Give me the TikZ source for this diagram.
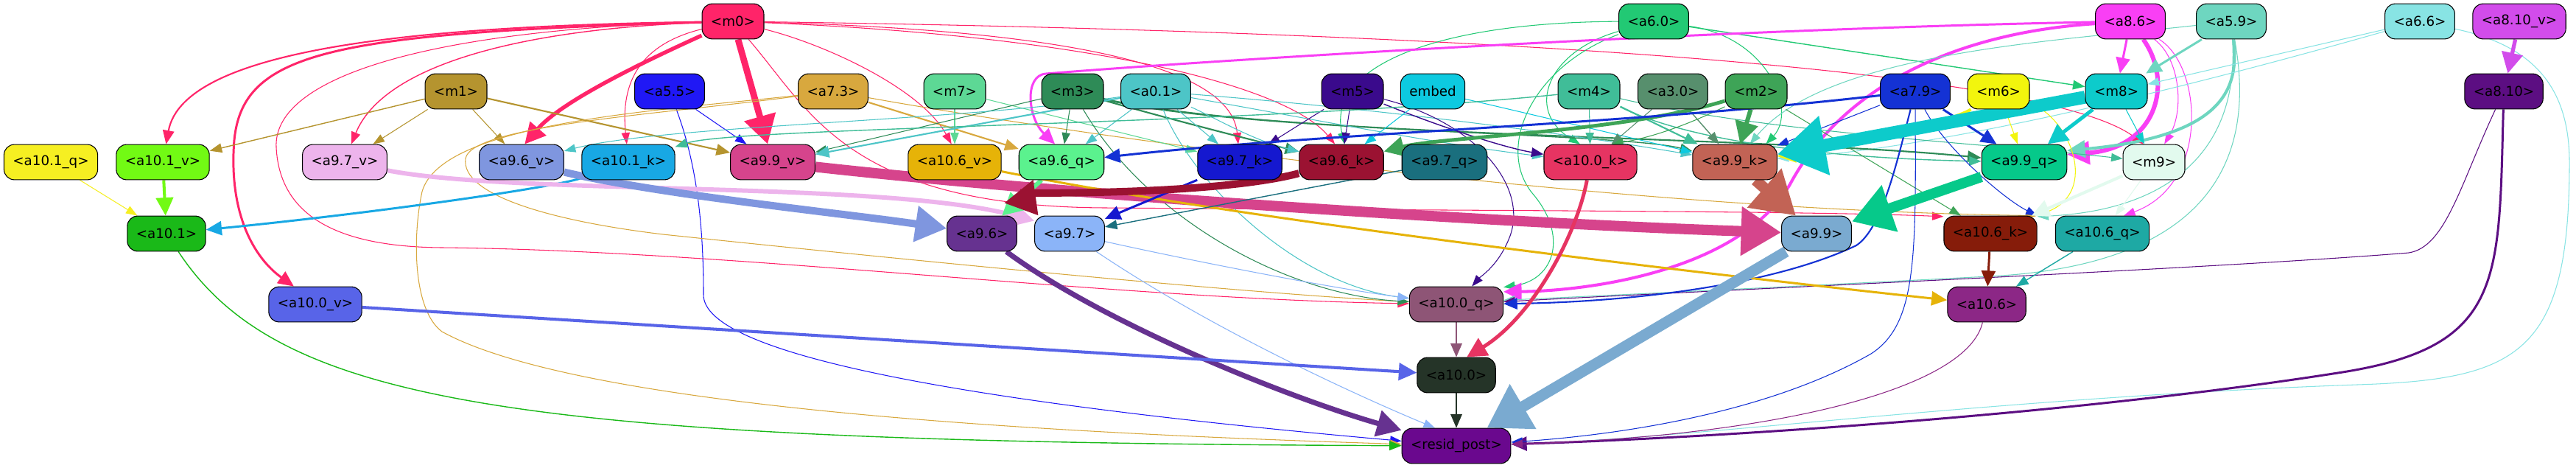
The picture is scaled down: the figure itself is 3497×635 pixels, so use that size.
\documentclass[tikz,border=0pt]{standalone}
\usepackage{fontspec}
\setmainfont{DejaVu Sans}
\usepackage{tikz}
\usetikzlibrary{arrows.meta,backgrounds}

\definecolor{cm0}{HTML}{FF2469}
\definecolor{ca60}{HTML}{22C974}
\definecolor{ca86}{HTML}{F93FF5}
\definecolor{ca59}{HTML}{6ED6C0}
\definecolor{ca66}{HTML}{88E4E4}
\definecolor{ca810v}{HTML}{D24CEB}
\definecolor{cm1}{HTML}{B5942F}
\definecolor{ca55}{HTML}{2018F5}
\definecolor{ca73}{HTML}{D8A83E}
\definecolor{cm7}{HTML}{5DD895}
\definecolor{cm3}{HTML}{2E8B57}
\definecolor{ca01}{HTML}{4DC5C7}
\definecolor{cm5}{HTML}{3A0A8C}
\definecolor{cembed}{HTML}{0DCAE0}
\definecolor{cm4}{HTML}{40BD98}
\definecolor{ca30}{HTML}{578F6D}
\definecolor{cm2}{HTML}{3EA457}
\definecolor{ca79}{HTML}{1432D4}
\definecolor{cm6}{HTML}{F2F50D}
\definecolor{cm8}{HTML}{0DCBCB}
\definecolor{ca810}{HTML}{5C0E82}
\definecolor{ca101q}{HTML}{F6EF22}
\definecolor{ca101v}{HTML}{72FA14}
\definecolor{ca97v}{HTML}{EDB4EC}
\definecolor{ca96v}{HTML}{7F96DF}
\definecolor{ca101k}{HTML}{18A8E4}
\definecolor{ca99v}{HTML}{D6448C}
\definecolor{ca106v}{HTML}{E6B308}
\definecolor{ca96q}{HTML}{5BF28E}
\definecolor{ca97k}{HTML}{1518CF}
\definecolor{ca96k}{HTML}{9B1232}
\definecolor{ca97q}{HTML}{1A6F7E}
\definecolor{ca100k}{HTML}{E63462}
\definecolor{ca99k}{HTML}{C26355}
\definecolor{ca99q}{HTML}{06C98A}
\definecolor{cm9}{HTML}{E2FAEE}
\definecolor{ca101}{HTML}{1AB918}
\definecolor{ca96}{HTML}{663290}
\definecolor{ca97}{HTML}{8BB4F8}
\definecolor{ca99}{HTML}{7AAAD0}
\definecolor{ca106k}{HTML}{861C0A}
\definecolor{ca106q}{HTML}{1EA9A4}
\definecolor{ca100v}{HTML}{5864E8}
\definecolor{ca100q}{HTML}{8E5576}
\definecolor{ca106}{HTML}{8C2786}
\definecolor{ca100}{HTML}{253428}
\definecolor{cresid}{HTML}{6A088E}

\begin{document}
\begin{tikzpicture}[
    x=0.02cm, y=-0.02cm,
    mybox/.style={draw=black, line width=0.6pt, rounded corners=8pt, minimum height=27.2pt,
        inner xsep=6.8pt, inner ysep=0pt, font=\fontsize{10.4}{12}\selectfont},
    myarrow/.style={-{Triangle[length=7pt 3, width=4pt 4]}}
]
\useasboundingbox (0,0) rectangle (3497,635);

\node[mybox, fill=cm0] (m0) at (995,29) {<m0>};
\node[mybox, fill=ca60] (a60) at (2245,29) {<a6.0>};
\node[mybox, fill=ca86] (a86) at (2892,29) {<a8.6>};
\node[mybox, fill=ca59] (a59) at (3029,29) {<a5.9>};
\node[mybox, fill=ca66] (a66) at (3285,29) {<a6.6>};
\node[mybox, fill=ca810v] (a810v) at (3420,29) {<a8.10\_v>};

\node[mybox, fill=cm1] (m1) at (619,124) {<m1>};
\node[mybox, fill=ca55] (a55) at (909,124) {<a5.5>};
\node[mybox, fill=ca73] (a73) at (1131,124) {<a7.3>};
\node[mybox, fill=cm7] (m7) at (1296,124) {<m7>};
\node[mybox, fill=cm3] (m3) at (1456,124) {<m3>};
\node[mybox, fill=ca01] (a01) at (1569,124) {<a0.1>};
\node[mybox, fill=cm5] (m5) at (1836,124) {<m5>};
\node[mybox, fill=cembed] (embed) at (1945,124) {embed};
\node[mybox, fill=cm4] (m4) at (2157,124) {<m4>};
\node[mybox, fill=ca30] (a30) at (2271,124) {<a3.0>};
\node[mybox, fill=cm2] (m2) at (2384,124) {<m2>};
\node[mybox, fill=ca79] (a79) at (2600,124) {<a7.9>};
\node[mybox, fill=cm6] (m6) at (2713,124) {<m6>};
\node[mybox, fill=cm8] (m8) at (2873,124) {<m8>};
\node[mybox, fill=ca810] (a810) at (3399,124) {<a8.10>};

\node[mybox, fill=ca101q] (a101q) at (69,220) {<a10.1\_q>};
\node[mybox, fill=ca101v] (a101v) at (221,220) {<a10.1\_v>};
\node[mybox, fill=ca97v] (a97v) at (468,220) {<a9.7\_v>};
\node[mybox, fill=ca96v] (a96v) at (708,220) {<a9.6\_v>};
\node[mybox, fill=ca101k] (a101k) at (853,220) {<a10.1\_k>};
\node[mybox, fill=ca99v] (a99v) at (1049,220) {<a9.9\_v>};
\node[mybox, fill=ca106v] (a106v) at (1296,220) {<a10.6\_v>};
\node[mybox, fill=ca96q] (a96q) at (1441,220) {<a9.6\_q>};
\node[mybox, fill=ca97k] (a97k) at (1683,220) {<a9.7\_k>};
\node[mybox, fill=ca96k] (a96k) at (1821,220) {<a9.6\_k>};
\node[mybox, fill=ca97q] (a97q) at (1961,220) {<a9.7\_q>};
\node[mybox, fill=ca100k] (a100k) at (2159,220) {<a10.0\_k>};
\node[mybox, fill=ca99k] (a99k) at (2355,220) {<a9.9\_k>};
\node[mybox, fill=ca99q] (a99q) at (2748,220) {<a9.9\_q>};
\node[mybox, fill=cm9] (m9) at (2924,220) {<m9>};

\node[mybox, fill=ca101] (a101) at (226,317) {<a10.1>};
\node[mybox, fill=ca96] (a96) at (1333,317) {<a9.6>};
\node[mybox, fill=ca97] (a97) at (1452,317) {<a9.7>};
\node[mybox, fill=ca99] (a99) at (2466,317) {<a9.9>};
\node[mybox, fill=ca106k] (a106k) at (2702,317) {<a10.6\_k>};
\node[mybox, fill=ca106q] (a106q) at (2854,317) {<a10.6\_q>};

\node[mybox, fill=ca100v] (a100v) at (428,413) {<a10.0\_v>};
\node[mybox, fill=ca100q] (a100q) at (1977,413) {<a10.0\_q>};
\node[mybox, fill=ca106] (a106) at (2697,413) {<a10.6>};
\node[mybox, fill=ca100] (a100) at (1977,509) {<a10.0>};
\node[mybox, fill=cresid] (resid) at (1977,605) {<resid\_post>};

\begin{scope}[on background layer]
\fill[white] (0,0) rectangle (3497,635);

% from the top row
\draw[myarrow, cm0, line width=1.2pt] (m0) .. controls (600,35) and (250,60) .. (a101v);
\draw[myarrow, cm0, line width=1.7pt] (m0) .. controls (450,45) and (330,70) .. (318,190) .. controls (310,290) and (345,350) .. (a100v.140);
\draw[myarrow, cm0, line width=0.8pt] (m0) .. controls (700,40) and (520,90) .. (a97v.70);
\draw[myarrow, cm0, line width=3pt] (m0) .. controls (860,90) and (760,140) .. (a96v.80);
\draw[myarrow, cm0, line width=5pt] (m0) -- (a99v);
\draw[myarrow, cm0, line width=0.6pt] (m0) .. controls (870,60) and (842,110) .. (a101k.95);
\draw[myarrow, cm0, line width=0.6pt] (m0) .. controls (600,40) and (370,100) .. (375,200) .. controls (380,300) and (470,335) .. (600,336) .. controls (1000,340) and (1500,405) .. (a100q);
\draw[myarrow, cm0, line width=0.6pt] (m0) .. controls (1120,60) and (1250,120) .. (a106v.100);
\draw[myarrow, cm0, line width=0.6pt] (m0) .. controls (1400,40) and (1670,80) .. (a97k.95);
\draw[myarrow, cm0, line width=0.6pt] (m0) .. controls (1500,50) and (1750,120) .. (a96k.110);
\draw[myarrow, cm0, line width=0.6pt] (m0) .. controls (1800,40) and (2760,80) .. (m9.120);
\draw[myarrow, cm0, line width=0.6pt] (m0) .. controls (1100,150) and (1150,280) .. (1500,282) .. controls (2000,286) and (2450,286) .. (a106k.160);

\draw[myarrow, ca60, line width=0.8pt] (a60) -- (m8);
\draw[myarrow, ca60, line width=0.6pt] (a60) .. controls (1950,30) and (1800,90) .. (a96k.80);
\draw[myarrow, ca60, line width=0.6pt] (a60) .. controls (2100,70) and (2070,150) .. (a100k.120);
\draw[myarrow, ca60, line width=0.6pt] (a60) .. controls (2400,50) and (2440,150) .. (a99k.30);
\draw[myarrow, ca60, line width=0.6pt] (a60) .. controls (2080,90) and (2030,200) .. (2080,262) .. controls (2130,320) and (2110,380) .. (a100q.20);

\draw[myarrow, ca86, line width=1.7pt] (a86) .. controls (2300,40) and (1600,85) .. (1420,100) .. controls (1390,102) and (1395,160) .. (a96q.110);
\draw[myarrow, ca86, line width=2.3pt] (a86) .. controls (2650,45) and (2500,120) .. (2430,250) .. controls (2360,370) and (2150,395) .. (a100q.15);
\draw[myarrow, ca86, line width=1.7pt] (a86) -- (m8);
\draw[myarrow, ca86, line width=3.4pt] (a86) .. controls (2950,110) and (2930,200) .. (a99q.10);
\draw[myarrow, ca86, line width=0.6pt] (a86) .. controls (2960,80) and (2965,150) .. (m9.60);
\draw[myarrow, ca86, line width=0.6pt] (a86) .. controls (2990,90) and (3000,250) .. (a106q.40);

\draw[myarrow, ca59, line width=1.7pt] (a59) -- (m8);
\draw[myarrow, ca59, line width=2.3pt] (a59) .. controls (3040,120) and (3020,185) .. (a99q.15);
\draw[myarrow, ca59, line width=0.6pt] (a59) .. controls (3040,200) and (2950,285) .. (a106k.20);
\draw[myarrow, ca59, line width=0.6pt] (a59) .. controls (3070,250) and (2960,362) .. (2700,375) .. controls (2450,388) and (2200,400) .. (a100q.5);
\draw[myarrow, ca59, line width=0.6pt] (a59) .. controls (2800,55) and (2480,70) .. (a99k.50);

\draw[myarrow, ca66, line width=0.6pt] (a66) -- (m8);
\draw[myarrow, ca66, line width=0.6pt] (a66) .. controls (3000,110) and (2650,200) .. (a99k.5);
\draw[myarrow, ca66, line width=0.6pt] (a66) .. controls (3430,60) and (3488,110) .. (3488,220) .. controls (3488,480) and (3420,515) .. (3200,522) .. controls (2700,540) and (2300,595) .. (resid);

\draw[myarrow, ca810v, line width=3pt] (a810v) -- (a810);
\draw[myarrow, ca810, line width=1.7pt] (a810) .. controls (3392,380) and (3400,470) .. (3180,505) .. controls (2800,565) and (2300,595) .. (resid);
\draw[myarrow, ca810, line width=0.6pt] (a810) .. controls (3340,250) and (3320,335) .. (3270,343) .. controls (3000,365) and (2300,395) .. (a100q);

% from the middle row
\draw[myarrow, cm1, line width=0.8pt] (m1) -- (a101v);
\draw[myarrow, cm1, line width=0.6pt] (m1) -- (a97v);
\draw[myarrow, cm1, line width=0.6pt] (m1) -- (a96v);
\draw[myarrow, cm1, line width=1.2pt] (m1) -- (a99v);

\draw[myarrow, ca55, line width=0.6pt] (a55) -- (a99v);
\draw[myarrow, ca55, line width=0.6pt] (a55) .. controls (945,220) and (955,300) .. (955,400) .. controls (955,480) and (1300,545) .. (resid);

\draw[myarrow, ca73, line width=1.2pt] (a73) -- (a96q);
\draw[myarrow, ca73, line width=0.6pt] (a73) .. controls (900,150) and (600,165) .. (573,260) .. controls (560,320) and (560,420) .. (600,450) .. controls (800,560) and (1500,590) .. (resid);
\draw[myarrow, ca73, line width=0.6pt] (a73) .. controls (900,155) and (640,170) .. (632,215) .. controls (625,265) and (750,300) .. (900,318) .. controls (1300,360) and (1700,398) .. (a100q);
\draw[myarrow, ca73, line width=0.6pt] (a73) .. controls (1500,190) and (2200,285) .. (a106k.north east);

\draw[myarrow, cm7, line width=0.6pt] (m7) -- (a106v);
\draw[myarrow, cm7, line width=0.6pt] (m7) -- (a97k);

\draw[myarrow, cm3, line width=0.6pt] (m3) -- (a96q);
\draw[myarrow, cm3, line width=0.6pt] (m3) -- (a99v);
\draw[myarrow, cm3, line width=1.2pt] (m3) .. controls (1600,165) and (1700,190) .. (a96k);
\draw[myarrow, cm3, line width=1.2pt] (m3) .. controls (1700,185) and (2400,185) .. (a99q);
\draw[myarrow, cm3, line width=0.8pt] (m3) .. controls (1700,180) and (2200,180) .. (a99k);
\draw[myarrow, cm3, line width=0.6pt] (m3) .. controls (1560,300) and (1750,400) .. (a100q);

\draw[myarrow, ca01, line width=0.6pt] (a01) -- (a96q);
\draw[myarrow, ca01, line width=1.2pt] (a01) -- (a99v);
\draw[myarrow, ca01, line width=0.6pt] (a01) .. controls (1300,165) and (900,170) .. (a96v);
\draw[myarrow, ca01, line width=0.6pt] (a01) -- (a97k);
\draw[myarrow, ca01, line width=0.6pt] (a01) .. controls (1620,250) and (1760,385) .. (a100q);
\draw[myarrow, ca01, line width=0.6pt] (a01) .. controls (1650,160) and (1700,190) .. (a96k);
\draw[myarrow, ca01, line width=0.6pt] (a01) .. controls (1800,165) and (1950,195) .. (a100k);
\draw[myarrow, ca01, line width=0.6pt] (a01) .. controls (1900,150) and (2150,185) .. (a99k);

\draw[myarrow, cm5, line width=0.6pt] (m5) -- (a96k);
\draw[myarrow, cm5, line width=0.6pt] (m5) -- (a97k);
\draw[myarrow, cm5, line width=0.8pt] (m5) .. controls (1950,170) and (2040,200) .. (a100k);
\draw[myarrow, cm5, line width=0.6pt] (m5) .. controls (2000,165) and (2075,250) .. (2050,320) .. controls (2035,360) and (2010,375) .. (a100q);

\draw[myarrow, cembed, line width=0.6pt] (embed) -- (a96k);
\draw[myarrow, cembed, line width=0.6pt] (embed) -- (a99k);

\draw[myarrow, cm4, line width=0.6pt] (m4) -- (a100k);
\draw[myarrow, cm4, line width=1.2pt] (m4) -- (a99k);
\draw[myarrow, cm4, line width=0.8pt] (m4) .. controls (1700,170) and (1000,172) .. (a101k);
\draw[myarrow, cm4, line width=0.6pt] (m4) .. controls (2400,180) and (2700,195) .. (m9);
\draw[myarrow, cm4, line width=0.8pt] (m4) .. controls (2300,195) and (2500,215) .. (a99q);

\draw[myarrow, ca30, line width=0.8pt] (a30) -- (a99k);
\draw[myarrow, ca30, line width=0.6pt] (a30) -- (a100k);

\draw[myarrow, cm2, line width=3.4pt] (m2) -- (a99k);
\draw[myarrow, cm2, line width=2.8pt] (m2) .. controls (2200,180) and (1960,185) .. (a96k);
\draw[myarrow, cm2, line width=0.6pt] (m2) -- (a106k);
\draw[myarrow, cm2, line width=0.6pt] (m2) .. controls (2300,165) and (2250,185) .. (a100k.40);

\draw[myarrow, ca79, line width=1.7pt] (a79) .. controls (2200,170) and (1800,180) .. (a96q);
\draw[myarrow, ca79, line width=1.7pt] (a79) -- (a99q);
\draw[myarrow, ca79, line width=0.6pt] (a79.south) .. controls (2601,350) and (2602,440) .. (2540,480) .. controls (2400,560) and (2200,590) .. (resid);
\draw[myarrow, ca79, line width=1.2pt] (a79) .. controls (2575,220) and (2555,310) .. (2520,333) .. controls (2400,390) and (2200,410) .. (a100q);
\draw[myarrow, ca79, line width=0.6pt] (a79) .. controls (2640,200) and (2720,270) .. (a106k.north east);
\draw[myarrow, ca79, line width=0.6pt] (a79) -- (a99k);

\draw[myarrow, cm6, line width=2.3pt] (m6) .. controls (2650,165) and (2500,200) .. (a99k);
\draw[myarrow, cm6, line width=0.6pt] (m6) -- (a99q);
\draw[myarrow, cm6, line width=0.6pt] (m6) .. controls (2810,160) and (2850,260) .. (a106k.north east);

\draw[myarrow, cm8, line width=10pt] (m8) -- (a99k);
\draw[myarrow, cm8, line width=2.8pt] (m8) -- (a99q);
\draw[myarrow, cm8, line width=0.6pt] (m8) -- (m9);

% lower rows
\draw[myarrow, ca101q, line width=0.6pt] (a101q) -- (a101);
\draw[myarrow, ca101v, line width=2.3pt] (a101v) -- (a101);
\draw[myarrow, ca101k, line width=1.7pt] (a101k) .. controls (750,255) and (500,290) .. (a101);
\draw[myarrow, ca97v, line width=3.4pt] (a97v) .. controls (700,265) and (1200,245) .. (a97.160);
\draw[myarrow, ca96v, line width=5.7pt] (a96v) .. controls (900,265) and (1150,290) .. (a96);
\draw[myarrow, ca99v, line width=8pt] (a99v) .. controls (1500,270) and (2100,305) .. (a99);
\draw[myarrow, ca106v, line width=1.7pt] (a106v) .. controls (1700,300) and (2300,370) .. (a106);
\draw[myarrow, ca96q, line width=3.4pt] (a96q) -- (a96);
\draw[myarrow, ca97k, line width=1.7pt] (a97k) -- (a97);
\draw[myarrow, ca96k, line width=5.7pt] (a96k) .. controls (1650,265) and (1385,262) .. (a97.150);
\draw[myarrow, ca97q, line width=0.8pt] (a97q) -- (a97);
\draw[myarrow, ca100k, line width=2.8pt] (a100k) .. controls (2140,320) and (2080,430) .. (a100.60);
\draw[myarrow, ca99k, line width=8.5pt] (a99k) -- (a99);
\draw[myarrow, ca99q, line width=8pt] (a99q) -- (a99);
\draw[myarrow, cm9, line width=2.3pt] (m9) -- (a106k);
\draw[myarrow, cm9, line width=0.6pt] (m9) -- (a106q);
\draw[myarrow, ca106k, line width=1.7pt] (a106k) -- (a106);
\draw[myarrow, ca106q, line width=0.8pt] (a106q) -- (a106);

\draw[myarrow, ca101, line width=0.8pt] (a101) .. controls (380,550) and (700,600) .. (resid);
\draw[myarrow, ca96, line width=4pt] (a96) .. controls (1500,440) and (1750,540) .. (resid);
\draw[myarrow, ca97, line width=0.6pt] (a97) .. controls (1650,450) and (1850,540) .. (resid.140);
\draw[myarrow, ca97, line width=0.6pt] (a97) .. controls (1600,350) and (1800,390) .. (a100q);
\draw[myarrow, ca99, line width=8.5pt] (a99) -- (resid);
\draw[myarrow, ca100v, line width=2.3pt] (a100v) -- (a100);
\draw[myarrow, ca100q, line width=1.2pt] (a100q) -- (a100);
\draw[myarrow, ca100, line width=1.2pt] (a100) -- (resid);
\draw[myarrow, ca106, line width=0.6pt] (a106) .. controls (2670,530) and (2400,592) .. (resid);
\end{scope}
\end{tikzpicture}
\end{document}
